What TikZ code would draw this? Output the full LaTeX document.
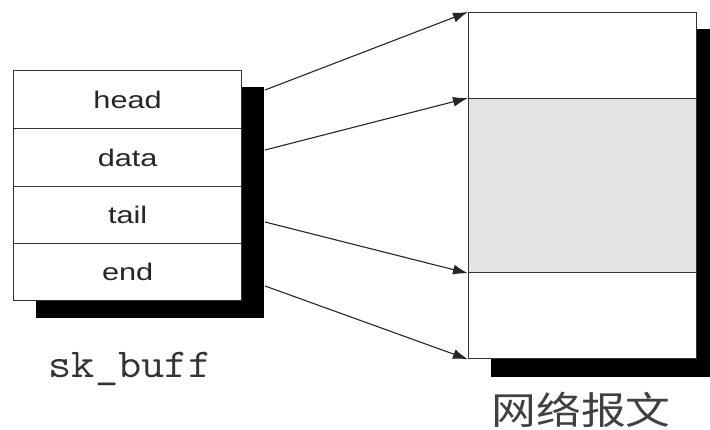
\documentclass[tikz,border=0pt]{standalone}
\usepackage{fontspec}
\setmainfont{Liberation Sans}
\newfontfamily\cjk{Noto Sans CJK SC}
\usetikzlibrary{arrows.meta}
\begin{document}
\begin{tikzpicture}[x=1pt,y=-1pt,
  cell/.style={draw=black!80,line width=1.3pt,fill=white,minimum width=228pt,inner sep=0pt,anchor=north west,font=\fontsize{24}{24}\selectfont,text=black!85},
  shadowbox/.style={fill=black,draw=none},
  ptr/.style={draw=black!85,line width=1.1pt,-{Latex[length=15pt,width=10pt]}}]
\useasboundingbox (0,0) rectangle (710,430);
% left shadow
\fill[shadowbox] (36,87) rectangle (264,318);
% left cells
\node[cell,minimum height=58pt] (head) at (13,70) {\scalebox{1.28}[1]{head}};
\node[cell,minimum height=58pt] (data) at (13,128) {\scalebox{1.28}[1]{data}};
\node[cell,minimum height=57pt] (tail) at (13,186) {\scalebox{1.28}[1]{tail}};
\node[cell,minimum height=57pt] (end) at (13,243) {\scalebox{1.28}[1]{end}};
% right shadow
\fill[shadowbox] (491,29) rectangle (719,377);
% right cells
\node[cell,minimum height=86pt] (ptop) at (468,12) {};
\node[cell,minimum height=174pt,fill=black!11] (pmid) at (468,98) {};
\node[cell,minimum height=86pt] (pbot) at (468,272) {};
% arrow sources
\coordinate (s1) at (265,90);
\coordinate (s2) at (265,150);
\coordinate (s3) at (265,222);
\coordinate (s4) at (265,286);
\draw[ptr] (s1) -- (ptop.north west);
\draw[ptr] (s2) -- (pmid.north west);
\draw[ptr] (s3) -- (pmid.south west);
\draw[ptr] (s4) -- (pbot.south west);
% labels
\node[font=\ttfamily\fontsize{41}{41}\selectfont,text=black!80] (skb) at (130,369) {\scalebox{1.1}[1]{sk\_buff}};
\node[font=\cjk\fontsize{38}{38}\selectfont,text=black!75] (pkt) at (581,410) {\scalebox{1.18}[1]{网络报文}};
\end{tikzpicture}
\end{document}
